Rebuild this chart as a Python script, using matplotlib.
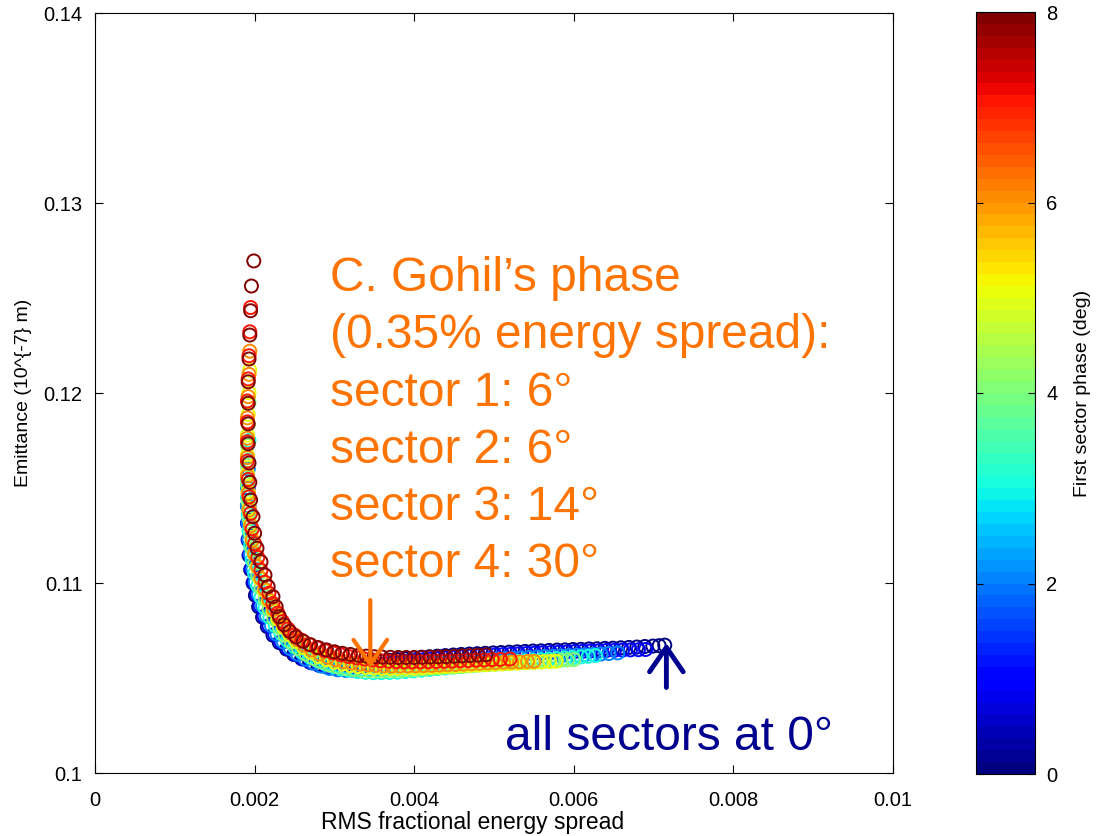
import matplotlib
matplotlib.use("Agg")
import matplotlib.pyplot as plt
from matplotlib.colors import Normalize
from matplotlib.cm import ScalarMappable

plt.rcParams['font.family'] = ['Liberation Sans', 'DejaVu Sans']

# First-sector phase (deg) of each scan, and its (energy spread, emittance) points
phases = [0, 1, 2, 3, 4, 5, 6, 7, 8]

phase0_points = [
    (0.00193, 0.11400), (0.00192, 0.11310), (0.00192, 0.11225), (0.00193, 0.11145), (0.00195, 0.11070),
    (0.00198, 0.11000), (0.00201, 0.10935), (0.00205, 0.10875), (0.00210, 0.10820), (0.00216, 0.10770),
    (0.00223, 0.10725), (0.00231, 0.10686), (0.00240, 0.10652), (0.00249, 0.10624), (0.00259, 0.10601),
    (0.00269, 0.10584), (0.00279, 0.10573), (0.00289, 0.10567), (0.00299, 0.10565), (0.00309, 0.10566),
    (0.00319, 0.10569), (0.00329, 0.10573), (0.00339, 0.10578), (0.00349, 0.10583), (0.00359, 0.10588),
    (0.00369, 0.10593), (0.00379, 0.10597), (0.00389, 0.10601), (0.00399, 0.10605), (0.00409, 0.10609),
    (0.00419, 0.10612), (0.00429, 0.10615), (0.00439, 0.10618), (0.00449, 0.10621), (0.00459, 0.10624),
    (0.00469, 0.10626), (0.00479, 0.10628), (0.00489, 0.10630), (0.00499, 0.10632), (0.00509, 0.10634),
    (0.00519, 0.10636), (0.00529, 0.10638), (0.00539, 0.10640), (0.00549, 0.10642), (0.00559, 0.10643),
    (0.00569, 0.10645), (0.00579, 0.10647), (0.00589, 0.10648), (0.00599, 0.10650), (0.00609, 0.10651),
    (0.00619, 0.10653), (0.00629, 0.10654), (0.00639, 0.10656), (0.00649, 0.10657), (0.00659, 0.10659),
    (0.00669, 0.10661), (0.00679, 0.10663), (0.00689, 0.10666), (0.00699, 0.10668), (0.00707, 0.10670),
    (0.00714, 0.10673),
]

phase1_points = [
    (0.00192, 0.11500), (0.00191, 0.11405), (0.00191, 0.11315), (0.00192, 0.11230), (0.00194, 0.11150),
    (0.00196, 0.11075), (0.00199, 0.11005), (0.00203, 0.10940), (0.00207, 0.10880), (0.00212, 0.10825),
    (0.00218, 0.10775), (0.00225, 0.10730), (0.00233, 0.10690), (0.00242, 0.10655), (0.00251, 0.10625),
    (0.00261, 0.10600), (0.00271, 0.10580), (0.00281, 0.10566), (0.00291, 0.10557), (0.00301, 0.10553),
    (0.00311, 0.10552), (0.00321, 0.10554), (0.00331, 0.10558), (0.00341, 0.10563), (0.00351, 0.10568),
    (0.00361, 0.10573), (0.00371, 0.10578), (0.00381, 0.10583), (0.00391, 0.10588), (0.00401, 0.10592),
    (0.00411, 0.10596), (0.00421, 0.10600), (0.00431, 0.10603), (0.00441, 0.10606), (0.00451, 0.10609),
    (0.00461, 0.10612), (0.00471, 0.10615), (0.00481, 0.10617), (0.00491, 0.10619), (0.00501, 0.10621),
    (0.00511, 0.10623), (0.00521, 0.10625), (0.00531, 0.10627), (0.00541, 0.10629), (0.00551, 0.10631),
    (0.00561, 0.10633), (0.00571, 0.10634), (0.00581, 0.10636), (0.00591, 0.10637), (0.00601, 0.10639),
    (0.00611, 0.10640), (0.00621, 0.10642), (0.00631, 0.10643), (0.00641, 0.10645), (0.00651, 0.10646),
    (0.00661, 0.10647), (0.00671, 0.10648), (0.00681, 0.10649), (0.00690, 0.10650),
]

phase2_points = [
    (0.00192, 0.11600), (0.00191, 0.11500), (0.00191, 0.11405), (0.00192, 0.11315), (0.00193, 0.11230),
    (0.00195, 0.11150), (0.00198, 0.11075), (0.00201, 0.11005), (0.00205, 0.10940), (0.00210, 0.10880),
    (0.00215, 0.10825), (0.00221, 0.10775), (0.00228, 0.10730), (0.00236, 0.10690), (0.00245, 0.10655),
    (0.00254, 0.10625), (0.00264, 0.10599), (0.00274, 0.10578), (0.00284, 0.10562), (0.00294, 0.10550),
    (0.00304, 0.10543), (0.00314, 0.10540), (0.00324, 0.10540), (0.00334, 0.10542), (0.00344, 0.10545),
    (0.00354, 0.10549), (0.00364, 0.10553), (0.00374, 0.10557), (0.00384, 0.10561), (0.00394, 0.10565),
    (0.00404, 0.10569), (0.00414, 0.10573), (0.00424, 0.10577), (0.00434, 0.10580), (0.00444, 0.10583),
    (0.00454, 0.10586), (0.00464, 0.10589), (0.00474, 0.10592), (0.00484, 0.10595), (0.00494, 0.10597),
    (0.00504, 0.10600), (0.00514, 0.10602), (0.00524, 0.10604), (0.00534, 0.10606), (0.00544, 0.10608),
    (0.00554, 0.10610), (0.00564, 0.10612), (0.00574, 0.10614), (0.00584, 0.10616), (0.00594, 0.10618),
    (0.00604, 0.10620), (0.00614, 0.10622), (0.00624, 0.10624), (0.00634, 0.10626), (0.00644, 0.10629),
    (0.00655, 0.10632),
]

phase3_points = [
    (0.00193, 0.11750), (0.00192, 0.11645), (0.00191, 0.11545), (0.00191, 0.11450), (0.00192, 0.11360),
    (0.00193, 0.11275), (0.00195, 0.11195), (0.00197, 0.11120), (0.00200, 0.11050), (0.00204, 0.10985),
    (0.00208, 0.10925), (0.00213, 0.10870), (0.00219, 0.10820), (0.00226, 0.10775), (0.00233, 0.10735),
    (0.00241, 0.10698), (0.00250, 0.10665), (0.00259, 0.10636), (0.00269, 0.10611), (0.00279, 0.10590),
    (0.00289, 0.10573), (0.00299, 0.10559), (0.00309, 0.10548), (0.00319, 0.10540), (0.00329, 0.10534),
    (0.00339, 0.10530), (0.00349, 0.10528), (0.00359, 0.10528), (0.00369, 0.10529), (0.00379, 0.10531),
    (0.00389, 0.10534), (0.00399, 0.10537), (0.00409, 0.10541), (0.00419, 0.10545), (0.00429, 0.10549),
    (0.00439, 0.10553), (0.00449, 0.10557), (0.00459, 0.10561), (0.00469, 0.10565), (0.00479, 0.10569),
    (0.00489, 0.10573), (0.00499, 0.10576), (0.00509, 0.10580), (0.00519, 0.10583), (0.00529, 0.10587),
    (0.00539, 0.10590), (0.00549, 0.10593), (0.00559, 0.10596), (0.00569, 0.10599), (0.00579, 0.10602),
    (0.00589, 0.10605), (0.00599, 0.10608), (0.00609, 0.10611), (0.00618, 0.10614), (0.00627, 0.10618),
]

phase4_points = [
    (0.00193, 0.11950), (0.00192, 0.11835), (0.00191, 0.11725), (0.00191, 0.11620), (0.00191, 0.11521),
    (0.00192, 0.11427), (0.00193, 0.11339), (0.00195, 0.11256), (0.00197, 0.11178), (0.00200, 0.11105),
    (0.00204, 0.11037), (0.00208, 0.10974), (0.00213, 0.10916), (0.00218, 0.10862), (0.00224, 0.10812),
    (0.00231, 0.10766), (0.00238, 0.10725), (0.00246, 0.10688), (0.00255, 0.10655), (0.00264, 0.10627),
    (0.00274, 0.10603), (0.00284, 0.10584), (0.00294, 0.10569), (0.00304, 0.10558), (0.00314, 0.10550),
    (0.00324, 0.10544), (0.00334, 0.10540), (0.00344, 0.10538), (0.00354, 0.10537), (0.00364, 0.10537),
    (0.00374, 0.10538), (0.00384, 0.10540), (0.00394, 0.10542), (0.00404, 0.10545), (0.00414, 0.10548),
    (0.00424, 0.10551), (0.00434, 0.10554), (0.00444, 0.10557), (0.00454, 0.10560), (0.00464, 0.10563),
    (0.00474, 0.10566), (0.00484, 0.10569), (0.00494, 0.10571), (0.00504, 0.10574), (0.00514, 0.10576),
    (0.00524, 0.10579), (0.00534, 0.10581), (0.00544, 0.10584), (0.00554, 0.10586), (0.00564, 0.10589),
    (0.00574, 0.10591), (0.00584, 0.10593), (0.00592, 0.10595), (0.00600, 0.10597),
]

phase5_points = [
    (0.00194, 0.12120), (0.00193, 0.12001), (0.00192, 0.11887), (0.00191, 0.11778), (0.00191, 0.11674),
    (0.00191, 0.11575), (0.00192, 0.11481), (0.00193, 0.11392), (0.00195, 0.11308), (0.00197, 0.11229),
    (0.00200, 0.11155), (0.00203, 0.11086), (0.00207, 0.11022), (0.00212, 0.10963), (0.00217, 0.10908),
    (0.00223, 0.10857), (0.00229, 0.10810), (0.00236, 0.10767), (0.00244, 0.10728), (0.00252, 0.10693),
    (0.00261, 0.10662), (0.00270, 0.10636), (0.00280, 0.10614), (0.00290, 0.10597), (0.00300, 0.10584),
    (0.00310, 0.10574), (0.00320, 0.10566), (0.00330, 0.10560), (0.00340, 0.10556), (0.00350, 0.10553),
    (0.00360, 0.10551), (0.00370, 0.10550), (0.00380, 0.10550), (0.00390, 0.10551), (0.00400, 0.10552),
    (0.00410, 0.10554), (0.00420, 0.10556), (0.00430, 0.10558), (0.00440, 0.10560), (0.00450, 0.10562),
    (0.00460, 0.10564), (0.00470, 0.10566), (0.00480, 0.10568), (0.00490, 0.10570), (0.00500, 0.10572),
    (0.00510, 0.10574), (0.00520, 0.10576), (0.00530, 0.10578), (0.00540, 0.10580), (0.00550, 0.10582),
    (0.00560, 0.10584), (0.00570, 0.10586), (0.00578, 0.10588),
]

phase6_points = [
    (0.00194, 0.12220), (0.00193, 0.12098), (0.00192, 0.11981), (0.00191, 0.11869), (0.00191, 0.11762),
    (0.00191, 0.11660), (0.00191, 0.11563), (0.00192, 0.11471), (0.00193, 0.11384), (0.00195, 0.11302),
    (0.00197, 0.11225), (0.00200, 0.11153), (0.00204, 0.11086), (0.00208, 0.11024), (0.00213, 0.10966),
    (0.00218, 0.10912), (0.00224, 0.10862), (0.00231, 0.10816), (0.00238, 0.10774), (0.00246, 0.10736),
    (0.00254, 0.10702), (0.00263, 0.10672), (0.00272, 0.10647), (0.00282, 0.10626), (0.00292, 0.10609),
    (0.00302, 0.10596), (0.00312, 0.10586), (0.00322, 0.10579), (0.00332, 0.10573), (0.00342, 0.10569),
    (0.00352, 0.10566), (0.00362, 0.10564), (0.00372, 0.10563), (0.00382, 0.10563), (0.00392, 0.10563),
    (0.00402, 0.10564), (0.00412, 0.10565), (0.00422, 0.10566), (0.00432, 0.10568), (0.00442, 0.10569),
    (0.00452, 0.10571), (0.00462, 0.10573), (0.00472, 0.10575), (0.00482, 0.10577), (0.00492, 0.10579),
    (0.00502, 0.10581), (0.00512, 0.10583), (0.00522, 0.10584), (0.00532, 0.10585), (0.00542, 0.10587),
    (0.00550, 0.10588),
]

phase7_points = [
    (0.00195, 0.12450), (0.00194, 0.12322), (0.00193, 0.12196), (0.00192, 0.12074), (0.00191, 0.11958),
    (0.00191, 0.11848), (0.00191, 0.11743), (0.00191, 0.11642), (0.00192, 0.11545), (0.00193, 0.11453),
    (0.00195, 0.11366), (0.00197, 0.11284), (0.00200, 0.11207), (0.00204, 0.11135), (0.00208, 0.11067),
    (0.00213, 0.11004), (0.00218, 0.10946), (0.00223, 0.10892), (0.00229, 0.10842), (0.00235, 0.10797),
    (0.00242, 0.10758), (0.00250, 0.10726), (0.00259, 0.10699), (0.00268, 0.10677), (0.00278, 0.10659),
    (0.00288, 0.10644), (0.00298, 0.10632), (0.00308, 0.10622), (0.00318, 0.10613), (0.00328, 0.10606),
    (0.00338, 0.10600), (0.00348, 0.10595), (0.00358, 0.10591), (0.00368, 0.10588), (0.00378, 0.10586),
    (0.00388, 0.10585), (0.00398, 0.10585), (0.00408, 0.10585), (0.00418, 0.10586), (0.00428, 0.10587),
    (0.00438, 0.10588), (0.00448, 0.10589), (0.00458, 0.10591), (0.00468, 0.10592), (0.00478, 0.10594),
    (0.00488, 0.10595), (0.00498, 0.10597), (0.00508, 0.10598), (0.00520, 0.10600),
]

phase8_points = [
    (0.00199, 0.12695), (0.00196, 0.12563), (0.00195, 0.12433), (0.00194, 0.12305), (0.00193, 0.12179),
    (0.00192, 0.12059), (0.00192, 0.11946), (0.00192, 0.11838), (0.00192, 0.11733), (0.00193, 0.11632),
    (0.00194, 0.11530), (0.00195, 0.11437), (0.00198, 0.11349), (0.00200, 0.11262), (0.00203, 0.11183),
    (0.00208, 0.11112), (0.00213, 0.11042), (0.00217, 0.10981), (0.00223, 0.10928), (0.00227, 0.10875),
    (0.00231, 0.10823), (0.00237, 0.10780), (0.00244, 0.10745), (0.00252, 0.10716), (0.00261, 0.10693),
    (0.00270, 0.10675), (0.00280, 0.10660), (0.00290, 0.10648), (0.00300, 0.10638), (0.00310, 0.10630),
    (0.00320, 0.10624), (0.00330, 0.10619), (0.00340, 0.10615), (0.00350, 0.10612), (0.00360, 0.10610),
    (0.00370, 0.10609), (0.00380, 0.10608), (0.00390, 0.10608), (0.00400, 0.10608), (0.00410, 0.10609),
    (0.00420, 0.10610), (0.00430, 0.10611), (0.00440, 0.10612), (0.00450, 0.10614), (0.00460, 0.10616),
    (0.00470, 0.10618), (0.00480, 0.10620), (0.00490, 0.10622),
]

scans = [phase0_points, phase1_points, phase2_points, phase3_points, phase4_points,
         phase5_points, phase6_points, phase7_points, phase8_points]

x_ticks = [0, 0.002, 0.004, 0.006, 0.008, 0.01]
x_tick_labels = ['0', '0.002', '0.004', '0.006', '0.008', '0.01']
y_ticks = [0.10, 0.11, 0.12, 0.13, 0.14]
y_tick_labels = ['0.1', '0.11', '0.12', '0.13', '0.14']
cbar_ticks = [0, 2, 4, 6, 8]

# Highlighted working points
gohil_point = (0.00345, 0.10553)
zero_phase_point = (0.00716, 0.10684)

W, H = 1097, 836
fig = plt.figure(figsize=(W / 100, H / 100), dpi=100)
ax = fig.add_axes([95 / W, 63 / H, 798 / W, 760 / H])
cax = fig.add_axes([976 / W, 62 / H, 59 / W, 762 / H])

cmap = plt.get_cmap('jet', 64)
norm = Normalize(vmin=0, vmax=8)

for phase, pts in zip(phases, scans):
    xs = [p[0] for p in pts]
    ys = [p[1] for p in pts]
    ax.scatter(xs, ys, s=88, facecolors='none', edgecolors=[cmap(norm(phase))],
               linewidths=1.4, zorder=2)

ax.set_xlim(0, 0.01)
ax.set_ylim(0.10, 0.14)
ax.set_xticks(x_ticks)
ax.set_xticklabels(x_tick_labels)
ax.set_yticks(y_ticks)
ax.set_yticklabels(y_tick_labels)
ax.tick_params(direction='in', top=True, right=True, length=6, width=0.8,
               labelsize=14.5)
ax.tick_params(axis='x', pad=13)
ax.tick_params(axis='y', pad=9)
for sp in ax.spines.values():
    sp.set_linewidth(0.8)

ax.set_ylabel('Emittance (10^{-7} m)', fontsize=14, labelpad=8)
fig.text(473 / W, 1 - 823 / H, 'RMS fractional energy spread', fontsize=16.5,
         ha='center', va='center')

# Colour bar
sm = ScalarMappable(norm=norm, cmap=cmap)
cb = fig.colorbar(sm, cax=cax, ticks=cbar_ticks)
cb.outline.set_linewidth(0.8)
cax.tick_params(direction='in', left=True, right=True, length=5, width=0.8,
                labelsize=14.5, pad=8)
cax.set_ylabel('First sector phase (deg)', fontsize=14, labelpad=12)

# Annotations
orange = '#FF7300'
navy = '#00008F'
ax.annotate('', xy=gohil_point, xytext=(gohil_point[0], 0.1091),
            arrowprops=dict(arrowstyle='->,head_length=0.8,head_width=0.55',
                            color=orange, lw=3, mutation_scale=22,
                            shrinkA=0, shrinkB=0), zorder=5)
ax.annotate('', xy=zero_phase_point, xytext=(zero_phase_point[0], 0.1045),
            arrowprops=dict(arrowstyle='->,head_length=0.8,head_width=0.55',
                            color=navy, lw=3.5, mutation_scale=22,
                            shrinkA=0, shrinkB=0), zorder=5)

fig.text(330 / W, 1 - 256 / H,
         'C. Gohil\u2019s phase\n(0.35% energy spread):\nsector 1: 6\u00b0\n'
         'sector 2: 6\u00b0\nsector 3: 14\u00b0\nsector 4: 30\u00b0',
         color=orange, fontsize=34.5, ha='left', va='top', linespacing=1.35)
fig.text(505 / W, 1 - 750 / H, 'all sectors at 0\u00b0', color=navy,
         fontsize=34.5, ha='left', va='baseline')

fig.savefig('out.png', dpi=100)
